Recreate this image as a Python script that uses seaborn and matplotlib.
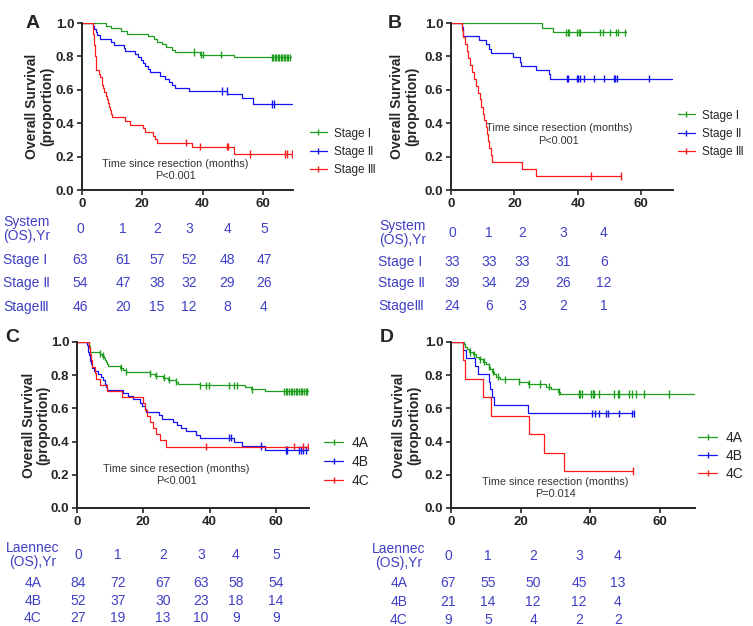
import numpy as np
import pandas as pd
import seaborn as sns
import matplotlib
matplotlib.use("Agg")
import matplotlib.pyplot as plt
from matplotlib.lines import Line2D

# ---------------- panel A : stage system, cohort 1 ----------------
a1_t = [8, 9.5, 13, 15, 22, 24, 25, 26.5, 28, 30, 31, 39, 50.5]
a1_s = [0.984, 0.968, 0.952, 0.937, 0.921, 0.905, 0.889, 0.873, 0.857, 0.841, 0.826, 0.810, 0.795]
a1_c = [37, 39.5, 40, 46, 63, 63.5, 64, 64.5, 65, 65.5, 66, 66.5, 67, 67.5, 68, 68.5, 69]
a1_end = 69.5

a2_t = [3.5, 4, 4.5, 5, 6, 9.5, 10.5, 13.8, 14.4, 17.7, 18.5, 19.5, 20.2, 21, 21.8, 22.5,
        26, 27.6, 28.7, 29.8, 31, 35.6, 48.2, 53, 56.8]
a2_s = [0.981, 0.963, 0.944, 0.926, 0.907, 0.889, 0.870, 0.852, 0.833, 0.815, 0.796, 0.778,
        0.759, 0.741, 0.722, 0.704, 0.685, 0.667, 0.648, 0.630, 0.611, 0.593, 0.574, 0.551, 0.515]
a2_c = [46.4, 48, 63, 63.6]
a2_end = 70

a3_t = [3.6, 3.7, 3.8, 3.9, 4.0, 4.1, 4.2, 4.3, 4.4, 4.5, 4.6, 4.7, 4.8, 5.5, 5.9, 6.5, 6.8,
        7.0, 7.4, 7.8, 8.2, 8.5, 8.9, 9.2, 9.6, 10.0, 14.4, 16.0, 20.2, 21.0, 23.5, 24.2, 24.9,
        36.5, 50.3]
a3_s = [0.978, 0.957, 0.935, 0.913, 0.891, 0.870, 0.848, 0.826, 0.804, 0.783, 0.761, 0.739,
        0.717, 0.696, 0.674, 0.652, 0.630, 0.609, 0.587, 0.565, 0.543, 0.522, 0.500, 0.478,
        0.457, 0.435, 0.413, 0.391, 0.370, 0.348, 0.326, 0.304, 0.283, 0.260, 0.215]
a3_c = [34.6, 39, 48, 48.4, 55.6, 67.4, 68, 69.6]
a3_end = 69.6

# ---------------- panel B : stage system, cohort 2 ----------------
b1_t = [28.6, 32.3]
b1_s = [0.970, 0.944]
b1_c = [36.3, 36.8, 37.2, 39.8, 40.3, 40.8, 47, 47.9, 50, 51.9, 52.8, 55]
b1_end = 55.3

b2_t = [3.5, 3.7, 3.9, 8.9, 11, 11.9, 12.6, 19.5, 21.6, 22, 26.8, 30.8, 31.3]
b2_s = [0.974, 0.949, 0.923, 0.897, 0.872, 0.846, 0.821, 0.795, 0.769, 0.744, 0.718, 0.692, 0.667]
b2_c = [36.5, 37, 39.7, 40.2, 40.7, 42, 45, 48.2, 51.3, 51.8, 52.3, 62.3]
b2_end = 70

b3_t = [3.5, 3.9, 4.4, 4.9, 5.4, 6.0, 6.6, 7.2, 7.8, 8.5, 9.1, 9.6, 10.1, 10.5, 10.9, 11.3,
        11.7, 12.1, 12.5, 13.0, 22.3, 26.8]
b3_s = [0.958, 0.917, 0.875, 0.833, 0.792, 0.750, 0.708, 0.667, 0.625, 0.583, 0.542, 0.500,
        0.458, 0.417, 0.375, 0.333, 0.292, 0.250, 0.208, 0.167, 0.125, 0.083]
b3_c = [44.2, 53.7]
b3_end = 53.7

# ---------------- panel C : Laennec, cohort 1 ----------------
c1_t = [3.5, 3.7, 3.8, 3.9, 4.0, 6.8, 7.6, 8.0, 8.3, 8.6, 9.0, 9.3, 13.0, 13.9, 14.7, 21.9,
        23.4, 25.9, 27.4, 30.0, 30.5, 37.0, 50.6, 52.6, 56.6]
c1_s = [0.988, 0.976, 0.964, 0.952, 0.940, 0.929, 0.917, 0.905, 0.893, 0.881, 0.869, 0.857,
        0.845, 0.833, 0.821, 0.810, 0.798, 0.786, 0.774, 0.762, 0.750, 0.738, 0.726, 0.714, 0.702]
c1_c = [7.0, 7.8, 13.4, 14.9, 21.9, 23.9, 26.1, 27.7, 30.0, 37.2, 39.0, 39.7, 45.8, 47.5,
        48.2, 52.9, 62.5, 63, 63.5, 64, 64.5, 65, 65.5, 66, 66.5, 67, 67.5, 68, 68.5, 69, 69.5]
c1_end = 70

c2_t = [3.0, 3.2, 3.4, 3.6, 3.8, 4.0, 4.3, 4.6, 5.0, 6.3, 7.1, 7.8, 8.3, 8.8, 9.2, 13.9, 15.4,
        16.9, 18.9, 19.7, 20.4, 20.9, 24.7, 25.7, 28.9, 30.3, 31.5, 33.0, 36.0, 37.0, 47.5,
        49.8, 56.6]
c2_s = [0.981, 0.962, 0.942, 0.923, 0.904, 0.885, 0.865, 0.846, 0.827, 0.808, 0.788, 0.769,
        0.750, 0.731, 0.712, 0.692, 0.673, 0.654, 0.635, 0.615, 0.596, 0.577, 0.558, 0.538,
        0.519, 0.500, 0.481, 0.462, 0.442, 0.423, 0.398, 0.374, 0.350]
c2_c = [46.0, 46.5, 55.4, 63.0, 63.5, 67.1, 67.6, 68.1, 69.1]
c2_end = 70

c3_t = [3.6, 3.9, 4.2, 4.6, 5.3, 5.8, 6.8, 9.0, 13.7, 19.9, 20.5, 21.2, 21.9, 22.9, 23.9,
        25.0, 26.9]
c3_s = [0.963, 0.926, 0.889, 0.852, 0.815, 0.778, 0.741, 0.704, 0.667, 0.630, 0.593, 0.556,
        0.519, 0.481, 0.444, 0.407, 0.370]
c3_c = [39.0, 65.6, 68.1, 69.6]
c3_end = 70

# ---------------- panel D : Laennec, cohort 2 ----------------
d1_t = [3.8, 4.1, 4.5, 5.3, 6.2, 7.2, 8.1, 9.1, 10.0, 10.8, 11.2, 11.8, 12.4, 12.9, 14.1,
        19.6, 22.0, 27.3, 28.7, 30.6, 31.4]
d1_s = [0.985, 0.970, 0.955, 0.940, 0.925, 0.910, 0.896, 0.881, 0.866, 0.851, 0.836, 0.821,
        0.806, 0.791, 0.776, 0.761, 0.746, 0.731, 0.716, 0.701, 0.686]
d1_c = [5.5, 6.5, 8.4, 9.6, 11.0, 12.0, 13.4, 15.6, 19.6, 22.5, 25.4, 28.2, 30.9, 36.7, 37.1,
        37.6, 40.2, 40.7, 41.1, 42.4, 46.9, 47.8, 48.3, 51.2, 52.0, 53.1, 55.5, 62.5]
d1_end = 70

d2_t = [3.5, 4.3, 7.0, 7.7, 10.8, 11.2, 11.8, 12.4, 22.0]
d2_s = [0.952, 0.905, 0.857, 0.810, 0.762, 0.714, 0.667, 0.619, 0.571]
d2_c = [40.5, 41.2, 42.4, 44.5, 45.0, 48.3, 52.0, 52.4]
d2_end = 52.4

d3_t = [3.5, 4.1, 9.1, 11.5, 22.3, 26.8, 32.5]
d3_s = [0.889, 0.778, 0.667, 0.556, 0.444, 0.333, 0.222]
d3_c = [52.2]
d3_end = 52.2

# ---------------- numbers at risk ----------------
stage_labels = ["Stage Ⅰ", "Stage Ⅱ", "Stage Ⅲ"]
stage_rows = ["Stage Ⅰ", "Stage Ⅱ", "StageⅢ"]
laennec_labels = ["4A", "4B", "4C"]

a_years = [0, 1, 2, 3, 4, 5]
a_risk = [[63, 61, 57, 52, 48, 47], [54, 47, 38, 32, 29, 26], [46, 20, 15, 12, 8, 4]]
b_years = [0, 1, 2, 3, 4]
b_risk = [[33, 33, 33, 31, 6], [39, 34, 29, 26, 12], [24, 6, 3, 2, 1]]
c_years = [0, 1, 2, 3, 4, 5]
c_risk = [[84, 72, 67, 63, 58, 54], [52, 37, 30, 23, 18, 14], [27, 19, 13, 10, 9, 9]]
d_years = [0, 1, 2, 3, 4]
d_risk = [[67, 55, 50, 45, 13], [21, 14, 12, 12, 4], [9, 5, 4, 2, 2]]

colors = ["#1e9e1e", "#1414f0", "#ff1a1a"]
tab_color = "#4040c4"

W, H = 753, 626
fig = plt.figure(figsize=(W / 100, H / 100), dpi=100)
sns.set_style("ticks")
plt.rcParams["font.family"] = ["Liberation Sans", "DejaVu Sans"]


def px(x, y):
    return x / W, 1 - y / H


def km_frame(curves, labels):
    rows, cens = [], []
    for (t, s, c, end), lab in zip(curves, labels):
        xs = [0] + list(t) + [end]
        ys = [1.0] + list(s) + [s[-1]]
        rows.append(pd.DataFrame({"time": xs, "surv": ys, "group": lab}))
        # survival level at each censoring time
        idx = np.searchsorted(np.array(t), np.array(c), side="right") - 1
        lv = np.where(idx >= 0, np.array(s)[np.clip(idx, 0, None)], 1.0)
        cens.append(pd.DataFrame({"time": c, "surv": lv, "group": lab}))
    return pd.concat(rows), pd.concat(cens)


def km_panel(rect, curves, labels, letter, letter_xy, ann_xy, pval,
             leg_xy, leg_fs, leg_sp, ylab_x):
    ax = fig.add_axes(rect)
    steps, cens = km_frame(curves, labels)
    pal = dict(zip(labels, colors))
    sns.lineplot(data=steps, x="time", y="surv", hue="group", palette=pal,
                 drawstyle="steps-post", estimator=None, sort=False,
                 legend=False, lw=0.9, ax=ax)
    sns.scatterplot(data=cens, x="time", y="surv", hue="group", palette=pal,
                    marker="|", s=28, linewidth=1.0, legend=False, ax=ax)
    ax.set_xlim(0, 70)
    ax.set_ylim(0, 1.0)
    ax.set_xticks([0, 20, 40, 60])
    ax.set_yticks(np.arange(0, 1.01, 0.2))
    ax.set_yticklabels([f"{v:.1f}" for v in np.arange(0, 1.01, 0.2)])
    for sp in ["top", "right"]:
        ax.spines[sp].set_visible(False)
    for sp in ["left", "bottom"]:
        ax.spines[sp].set_linewidth(1.4)
    ax.tick_params(width=1.2, length=3.5, labelsize=9.5, pad=2)
    for lab in ax.get_xticklabels() + ax.get_yticklabels():
        lab.set_fontweight("bold")
    ax.set_xlabel("")
    ax.set_ylabel("Overall Survival\n(proportion)", fontsize=10,
                  fontweight="bold", linespacing=1.05)
    ax.yaxis.set_label_coords(ylab_x, 0.5)
    ax.text(ann_xy[0], ann_xy[1], "Time since resection (months)",
            fontsize=7.8, color="#333333", ha="center", va="center")
    ax.text(ann_xy[0], ann_xy[1] - 0.075, pval,
            fontsize=7.8, color="#333333", ha="center", va="center")
    handles = [Line2D([0], [0], color=c, lw=0.9, marker="|", markersize=4.5)
               for c in colors]
    ax.legend(handles, labels, loc="center left", bbox_to_anchor=px(*leg_xy),
              bbox_transform=fig.transFigure, frameon=False, fontsize=leg_fs,
              handlelength=1.4, handletextpad=0.6, labelspacing=leg_sp,
              borderpad=0, borderaxespad=0)
    fig.text(*px(*letter_xy), letter, fontsize=14, fontweight="bold",
             ha="center", va="center")
    return ax


def risk_table(head, head_x, head_ha, head_y, row_labels, lab_x, lab_ha,
               col_x, years, risk, row_y):
    fig.text(*px(head_x, head_y), head, fontsize=10, color=tab_color,
             ha=head_ha, va="center", linespacing=1.0)
    for x, yr in zip(col_x, years):
        fig.text(*px(x, head_y), str(yr), fontsize=10, color=tab_color,
                 ha="center", va="center")
    for lab, vals, y in zip(row_labels, risk, row_y):
        fig.text(*px(lab_x, y), lab, fontsize=10, color=tab_color,
                 ha=lab_ha, va="center")
        for x, v in zip(col_x, vals):
            fig.text(*px(x, y), str(v), fontsize=10, color=tab_color,
                     ha="center", va="center")


km_panel([82 / W, 1 - 190 / H, 211 / W, 167 / H],
         [(a1_t, a1_s, a1_c, a1_end), (a2_t, a2_s, a2_c, a2_end), (a3_t, a3_s, a3_c, a3_end)],
         stage_labels, "A", (33, 24), (31, 0.156), "P<0.001", (310, 152), 8.5, 0.55, -0.133)
km_panel([451 / W, 1 - 190 / H, 222 / W, 167 / H],
         [(b1_t, b1_s, b1_c, b1_end), (b2_t, b2_s, b2_c, b2_end), (b3_t, b3_s, b3_c, b3_end)],
         stage_labels, "B", (395, 24), (34, 0.37), "P<0.001", (678, 134), 8.5, 0.55, -0.144)
km_panel([77 / W, 1 - 508 / H, 232 / W, 166 / H],
         [(c1_t, c1_s, c1_c, c1_end), (c2_t, c2_s, c2_c, c2_end), (c3_t, c3_s, c3_c, c3_end)],
         laennec_labels, "C", (12, 337), (30, 0.235), "P<0.001", (324, 462), 10, 0.35, -0.116)
km_panel([451 / W, 1 - 508 / H, 244 / W, 166 / H],
         [(d1_t, d1_s, d1_c, d1_end), (d2_t, d2_s, d2_c, d2_end), (d3_t, d3_s, d3_c, d3_end)],
         laennec_labels, "D", (387, 337), (30, 0.157), "P=0.014", (698, 456), 10, 0.3, -0.123)

risk_table("System\n(OS),Yr", 3, "left", 229, stage_rows, 3, "left",
           [80, 123, 157, 189, 227, 264], a_years, a_risk, [260, 283, 307])
risk_table("System\n(OS),Yr", 379, "left", 233, stage_rows, 378, "left",
           [452, 489, 522, 563, 604], b_years, b_risk, [262, 283, 306])
risk_table("Laennec\n(OS),Yr", 33, "center", 555, laennec_labels, 33, "center",
           [78, 118, 163, 201, 236, 276], c_years, c_risk, [583, 601, 618])
risk_table("Laennec\n(OS),Yr", 399, "center", 556, laennec_labels, 399, "center",
           [448, 488, 533, 579, 618], d_years, d_risk, [583, 602, 620])

fig.savefig("out.png", dpi=100)
